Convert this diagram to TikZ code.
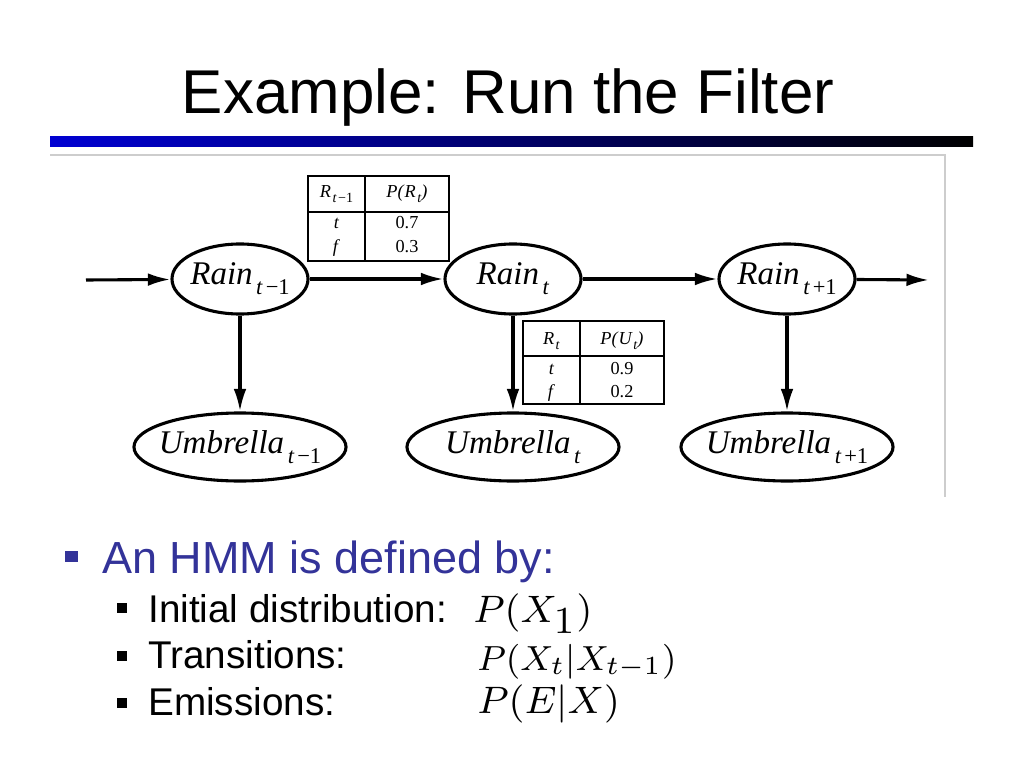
\RequirePackage{fix-cm}
\documentclass[tikz,border=0pt]{standalone}
\usepackage{amsmath}
\usepackage{fontspec}
\setsansfont{Liberation Sans}
\newfontfamily\tms{Liberation Serif}
\usetikzlibrary{shapes.geometric,arrows.meta}
\definecolor{hmmblue}{RGB}{51,51,153}
\definecolor{barblue}{RGB}{0,0,210}
\definecolor{framegray}{RGB}{205,205,205}
\newcommand\lbl[2]{\makebox[0pt]{\tms\itshape #1\kern2.5pt\raisebox{-7pt}{\fontsize{16pt}{16pt}\selectfont\upshape #2}}}
\newcommand\hsub[2]{{\itshape #1}\kern1pt\raisebox{-4pt}{\fontsize{10pt}{10pt}\selectfont #2}}
\newcommand\bigmath[2][3.4]{\scalebox{#1}{$#2$}}

\begin{document}
\begin{tikzpicture}[x=0.025cm, y=-0.025cm,
  rain/.style={ellipse, draw, line width=2.2pt, minimum width=3.4cm, minimum height=1.75cm, inner sep=0pt,
    font=\fontsize{23.5pt}{25pt}\selectfont},
  umb/.style={rain, minimum width=5.3cm, minimum height=1.7cm},
  arr/.style={line width=2.2pt, -{Latex[length=16pt,width=9pt]}},
  tab/.style={line width=1.4pt},
  cell/.style={anchor=base, inner sep=0pt, font=\tms\fontsize{13pt}{14pt}\selectfont},
  txt/.style={anchor=base west, inner sep=0pt, font=\sffamily\fontsize{27.5pt}{30pt}\selectfont},
  eq/.style={anchor=base west, inner sep=0pt, font=\fontsize{8pt}{10pt}\selectfont}]
\useasboundingbox (0,0) rectangle (1024,768);
% title
\node [anchor=base, inner sep=0pt, font=\sffamily\fontsize{44pt}{48pt}\selectfont] (title) at (508,114) {Example: Run the Filter};
\shade [left color=barblue, right color=black] (50,137) rectangle (973,147);
% frame of the figure
\draw [framegray, line width=1pt] (50,155) -- (945,155) -- (945,497);
% nodes
\foreach \i/\x/\s in {0/240/{\textit{t}\kern2pt−1}, 1/513/{\textit{t}}, 2/787/{\textit{t}\kern2pt+1}}
{
\node [rain] (rain\i) at (\x,279) {\lbl{Rain}{\s}};
\node [umb]  (umb\i)  at (\x,447) {\lbl{Umbrella}{\s}};
\draw [arr] (rain\i) -- (umb\i);
}
\coordinate (in)  at (86,280);
\coordinate (out) at (929,280);
\draw [arr] (in) -- (rain0);
\draw [arr] (rain0) -- (rain1);
\draw [arr] (rain1) -- (rain2);
\draw [arr] (rain2) -- (out);
% table for P(R_t)
\begin{scope}[shift={(308,176)}]
\draw [tab] (0,0) rectangle (141,85);
\draw [tab] (57,0) -- (57,85);
\draw [tab, line width=2pt] (0,36) -- (141,36);
\node [cell] (rhead) at (28.5,21) {\hsub{R}{\textit{t}\kern1pt−1}};
\node [cell] (phead) at (99,21) {\textit{P(}\hsub{R}{\textit{t}}\textit{)}};
\node [cell] (rt) at (28.5,52) {\textit{t}};
\node [cell] (rf) at (28.5,76) {\textit{f}};
\node [cell] (p7) at (99,52) {0.7};
\node [cell] (p3) at (99,76) {0.3};
\end{scope}
% table for P(U_t)
\begin{scope}[shift={(523,321)}]
\draw [tab] (0,0) rectangle (141,83);
\draw [tab] (57,0) -- (57,83);
\draw [tab, line width=2pt] (0,35) -- (141,35);
\node [cell] (uhead) at (28.5,23) {\hsub{R}{\textit{t}}};
\node [cell] (qhead) at (99,23) {\textit{P(}\hsub{U}{\textit{t}}\textit{)}};
\node [cell] (ut) at (28.5,53) {\textit{t}};
\node [cell] (uf) at (28.5,76) {\textit{f}};
\node [cell] (q9) at (99,53) {0.9};
\node [cell] (q2) at (99,76) {0.2};
\end{scope}
% bullets
\fill [hmmblue] (65,551) rectangle (78,562);
\node [txt, text=hmmblue, font=\sffamily\fontsize{32pt}{34pt}\selectfont] (hmm) at (102,573) {An HMM is defined by:};
\foreach \y in {603,651,698}
  \fill (117,\y) rectangle (127,\y+10);
\node [txt] (init)  at (148,622) {Initial distribution:};
\node [txt] (trans) at (148,668) {Transitions:};
\node [txt] (emis)  at (148,715) {Emissions:};
\node [eq] (pinit)  at (473,622) {\bigmath{P(X_{\textstyle 1})}};
\node [eq] (ptrans) at (477,670) {\bigmath[3.1]{P(X_t|X_{t-1})}};
\node [eq] (pemis)  at (477,713) {\bigmath{P(E|X)}};
\end{tikzpicture}
\end{document}
